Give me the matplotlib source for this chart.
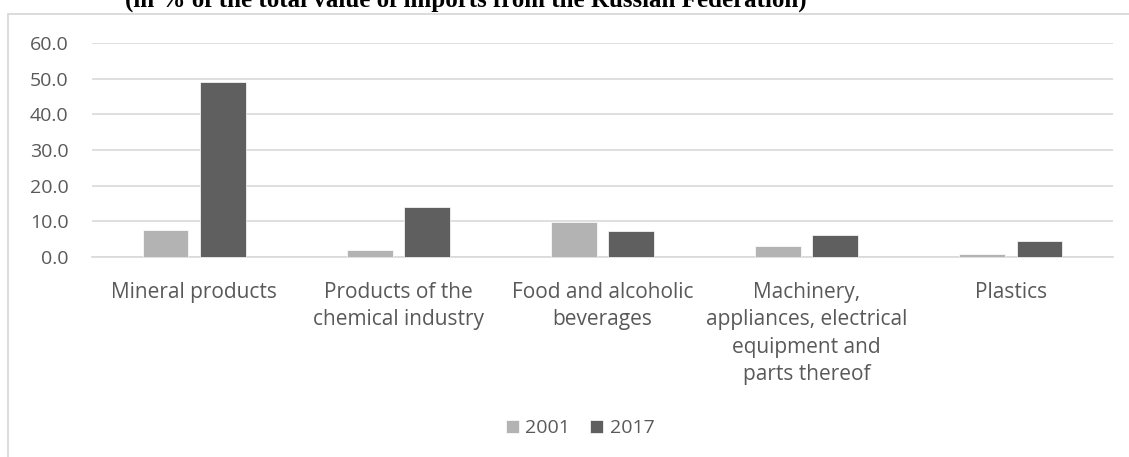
import numpy as np
import matplotlib.pyplot as plt
from matplotlib.patches import Rectangle

# data
categories = ["Mineral products", "Products of the\nchemical industry",
              "Food and alcoholic\nbeverages",
              "Machinery,\nappliances, electrical\nequipment and\nparts thereof",
              "Plastics"]
years = ["2001", "2017"]
share_2001 = [7.5, 1.9, 9.8, 3.1, 0.9]
share_2017 = [49.1, 14.1, 7.3, 6.2, 4.6]
yticks = [0, 10, 20, 30, 40, 50, 60]

W, H = 1129, 457
fig = plt.figure(figsize=(W / 100, H / 100), dpi=100)
plt.rcParams['font.family'] = ['Open Sans', 'DejaVu Sans']

# outer chart border (light gray box); title above it is cut off at the top
fig.patches.append(Rectangle((8 / W, -0.01), 1.2, (H - 14) / H + 0.01,
                             transform=fig.transFigure, fill=False,
                             edgecolor="#d9d9d9", lw=1.3))
fig.text(466 / W, 1 - 7 / H,
         "(in % of the total value of imports from the Russian Federation)",
         ha="center", va="baseline", fontsize=18, fontweight="bold",
         family="Liberation Serif")

ax = fig.add_axes([92 / W, 1 - 257 / H, 1021 / W, 214 / H])
x = np.arange(len(categories))
w = 0.225
ax.bar(x - 0.14, share_2001, w, color="#b3b3b3", edgecolor="white", lw=0.5,
       label=years[0], zorder=3)
ax.bar(x + 0.14, share_2017, w, color="#5f5f5f", edgecolor="white", lw=0.5,
       label=years[1], zorder=3)

ax.set_xlim(-0.5, len(categories) - 0.5)
ax.set_ylim(0, 60)
ax.set_yticks(yticks)
ax.set_yticklabels([f"{v:.1f}" for v in yticks])
ax.set_xticks(x)
ax.set_xticklabels(categories, linespacing=1.4)
ax.tick_params(length=0, colors="#595959")
ax.tick_params(axis="x", pad=18, labelsize=15)
ax.tick_params(axis="y", pad=17, labelsize=14)
ax.grid(axis="y", color="#d9d9d9", lw=1.2, zorder=0)
for s in ["top", "right", "left"]:
    ax.spines[s].set_visible(False)
ax.spines["bottom"].set_color("#d9d9d9")
ax.spines["bottom"].set_linewidth(1.2)

leg = ax.legend(loc="center", bbox_to_anchor=(580 / W, 1 - 428 / H),
                bbox_transform=fig.transFigure, ncol=2, frameon=False,
                fontsize=14, handlelength=0.67, handleheight=0.67,
                handletextpad=0.35, columnspacing=1.0)
for t in leg.get_texts():
    t.set_color("#595959")

fig.savefig("out.png", dpi=100)
